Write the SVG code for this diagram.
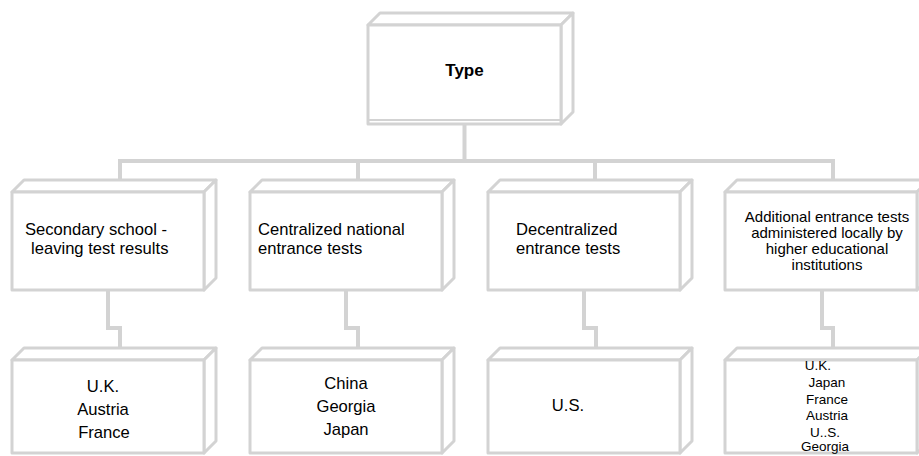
<svg xmlns="http://www.w3.org/2000/svg" width="919" height="456" viewBox="0 0 919 456">
<style>
.face{fill:#fff;stroke:#d3d3d3;stroke-width:3;stroke-linejoin:round}
.conn{fill:none;stroke:#d3d3d3;stroke-width:4}
.t{font-family:"Liberation Sans",Arial,sans-serif;font-size:16.6px;fill:#000}
.s{font-family:"Liberation Sans",Arial,sans-serif;font-size:15px;fill:#000}
.xs{font-family:"Liberation Sans",Arial,sans-serif;font-size:13.5px;fill:#000}
.c{text-anchor:middle}
</style>
<rect width="919" height="456" fill="#fff"/>
<g id="connectors">
<path class="conn" d="M464.5 124 V161"/>
<path class="conn" d="M120 180 V161 H833 V180 M358 161 V180 M595 161 V180"/>
<path class="conn" d="M108 290 V328 H120 V348"/>
<path class="conn" d="M346 290 V328 H358 V348"/>
<path class="conn" d="M584 290 V328 H596 V348"/>
<path class="conn" d="M822 290 V328 H833 V348"/>
</g>
<g id="type">
<polygon class="face" points="368,25 380,13 573,13 561,25"/>
<polygon class="face" points="561,25 573,13 573,112 561,124"/>
<rect class="face" x="368" y="25" width="193" height="99"/>
<line x1="368" y1="120" x2="561" y2="120" stroke="#d3d3d3" stroke-width="2"/>
<text class="t c" x="464.5" y="76" style="font-weight:bold;font-size:17px">Type</text>
</g>
<g id="secondary">
<polygon class="face" points="12,192 24,180 216,180 204,192"/>
<polygon class="face" points="204,192 216,180 216,278 204,290"/>
<rect class="face" x="12" y="192" width="192" height="98"/>
<text class="t" x="25" y="235">Secondary school -</text>
<text class="t" x="31" y="254">leaving test results</text>
</g>
<g id="centralized">
<polygon class="face" points="250,192 262,180 454,180 442,192"/>
<polygon class="face" points="442,192 454,180 454,278 442,290"/>
<rect class="face" x="250" y="192" width="192" height="98"/>
<text class="t" x="258" y="235">Centralized national</text>
<text class="t" x="258" y="254">entrance tests</text>
</g>
<g id="decentralized">
<polygon class="face" points="488,192 500,180 692,180 680,192"/>
<polygon class="face" points="680,192 692,180 692,278 680,290"/>
<rect class="face" x="488" y="192" width="192" height="98"/>
<text class="t" x="516" y="235">Decentralized</text>
<text class="t" x="516" y="254">entrance tests</text>
</g>
<g id="additional">
<polygon class="face" points="725,192 737,180 929,180 917,192"/>
<polygon class="face" points="917,192 929,180 929,278 917,290"/>
<rect class="face" x="725" y="192" width="192" height="98"/>
<text class="s c" x="827" y="222">Additional entrance tests</text>
<text class="s c" x="827" y="238">administered locally by</text>
<text class="s c" x="827" y="254">higher educational</text>
<text class="s c" x="827" y="270">institutions</text>
</g>
<g id="countries1">
<polygon class="face" points="12,360 24,348 216,348 204,360"/>
<polygon class="face" points="204,360 216,348 216,441 204,453"/>
<rect class="face" x="12" y="360" width="192" height="93"/>
<text class="t c" x="103" y="392">U.K.</text>
<text class="t c" x="103" y="415">Austria</text>
<text class="t c" x="104" y="438">France</text>
</g>
<g id="countries2">
<polygon class="face" points="250,360 262,348 454,348 442,360"/>
<polygon class="face" points="442,360 454,348 454,441 442,453"/>
<rect class="face" x="250" y="360" width="192" height="93"/>
<text class="t c" x="346" y="389">China</text>
<text class="t c" x="346" y="412">Georgia</text>
<text class="t c" x="346" y="435">Japan</text>
</g>
<g id="countries3">
<polygon class="face" points="488,360 500,348 692,348 680,360"/>
<polygon class="face" points="680,360 692,348 692,441 680,453"/>
<rect class="face" x="488" y="360" width="192" height="93"/>
<text class="t c" x="568" y="411">U.S.</text>
</g>
<g id="countries4">
<polygon class="face" points="725,360 737,348 929,348 917,360"/>
<polygon class="face" points="917,360 929,348 929,441 917,453"/>
<rect class="face" x="725" y="360" width="192" height="93"/>
<text class="xs c" x="818" y="370">U.K.</text>
<text class="xs c" x="827" y="387">Japan</text>
<text class="xs c" x="827" y="404">France</text>
<text class="xs c" x="827" y="420">Austria</text>
<text class="xs c" x="825" y="437">U..S.</text>
<text class="xs c" x="825" y="451">Georgia</text>
</g>
</svg>
